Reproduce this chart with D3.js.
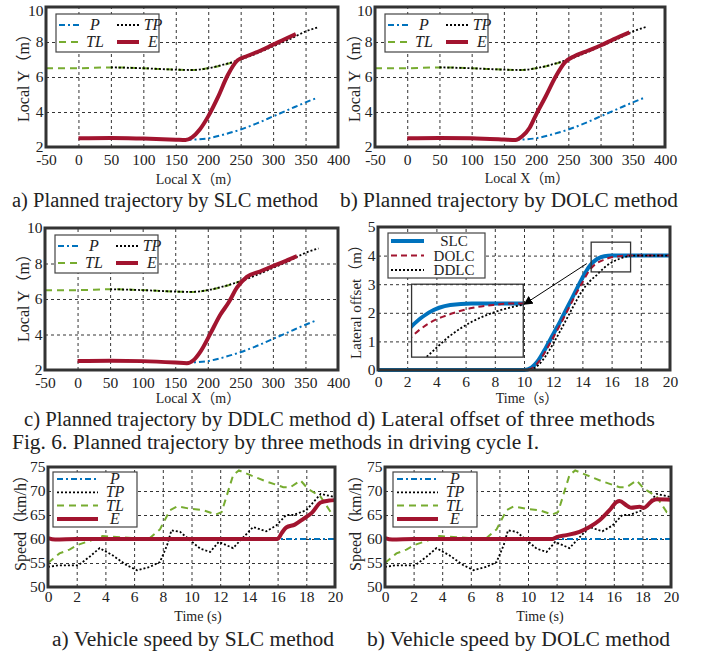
<!DOCTYPE html>
<html>
<head>
<meta charset="utf-8">
<script src="https://cdn.jsdelivr.net/npm/d3@7"></script>
<style>
body { margin: 0; background: #fff; }
text { font-family: "Liberation Serif", "Times New Roman", "Noto Sans CJK SC", serif; fill: #222; }
.grid line { stroke: #000; stroke-width: 0.8; stroke-dasharray: 3,3; }
.grid path, .ticks path { display: none; }
</style>
</head>
<body>
<svg id="fig" width="713" height="652"></svg>
<script>
// ---- trajectory plots (a, b, c) ----
const trajTicksX = [-50, 0, 50, 100, 150, 200, 250, 300, 350, 400];
const trajTicksY = [2, 4, 6, 8, 10];

const tlX = [-50, 0, 50, 100, 150, 175, 200, 225, 250];
const tlY = [6.5, 6.5, 6.55, 6.5, 6.42, 6.4, 6.5, 6.7, 7.0];
const tpX = [50, 100, 150, 175, 200, 225, 250, 275, 300, 325, 350, 370];
const tpY = [6.55, 6.5, 6.42, 6.4, 6.5, 6.72, 7.0, 7.35, 7.75, 8.15, 8.6, 8.85];
const pX = [165, 175, 200, 225, 250, 275, 300, 325, 350, 367];
const pY = [2.4, 2.42, 2.5, 2.72, 3.0, 3.35, 3.75, 4.15, 4.55, 4.8];

const eSlcX = [0, 50, 100, 150, 165, 175, 187, 200, 215, 230, 245, 260, 280, 300, 320, 335];
const eSlcY = [2.5, 2.52, 2.48, 2.42, 2.4, 2.55, 3.0, 3.75, 4.85, 6.1, 6.95, 7.2, 7.5, 7.85, 8.2, 8.45];
const eDolcX = [0, 50, 100, 150, 168, 178, 190, 200, 215, 230, 245, 260, 280, 300, 320, 345];
const eDolcY = [2.5, 2.52, 2.5, 2.43, 2.4, 2.6, 3.1, 3.85, 4.9, 6.0, 6.85, 7.2, 7.5, 7.8, 8.15, 8.55];
const eDdlcX = [0, 50, 100, 150, 168, 178, 189, 204, 219, 232, 245, 260, 280, 300, 320, 337];
const eDdlcY = [2.5, 2.52, 2.5, 2.42, 2.38, 2.55, 3.05, 4.05, 5.1, 5.8, 6.65, 7.25, 7.55, 7.85, 8.15, 8.42];

// ---- lateral offset (d) ----
const latTicksX = [0, 2, 4, 6, 8, 10, 12, 14, 16, 18, 20];
const latTicksY = [0, 1, 2, 3, 4, 5];
const latT = [0, 10, 10.5, 11, 11.5, 12, 12.5, 13, 13.5, 14, 14.5, 15, 15.5, 16, 16.5, 17, 17.5, 20];
const latSLC = [0, 0, 0.08, 0.35, 0.78, 1.25, 1.72, 2.22, 2.72, 3.22, 3.64, 3.88, 3.98, 4.0, 4.0, 4.0, 4.0, 4.0];
const latDOLC = [0, 0, 0.05, 0.28, 0.68, 1.14, 1.6, 2.1, 2.6, 3.06, 3.5, 3.74, 3.86, 3.94, 3.98, 4.0, 4.0, 4.0];
const latDDLC = [0, 0, 0.02, 0.18, 0.5, 0.92, 1.38, 1.86, 2.34, 2.78, 3.1, 3.33, 3.58, 3.76, 3.88, 3.96, 4.0, 4.0];

// ---- vehicle speed (e, f) ----
const spdTicksX = [0, 2, 4, 6, 8, 10, 12, 14, 16, 18, 20];
const spdTicksY = [50, 55, 60, 65, 70, 75];
const spdPT = [0, 20];
const spdPV = [60, 60];
const spdTLT = [0, 0.8, 1.5, 2.1, 2.7, 3.8, 5.9, 7.1, 7.8, 8.5, 9, 9.9, 10.8, 11.7, 12.1, 12.9, 13.3, 14.1, 15.2, 16.4, 16.9, 17.6, 18.1, 19, 19.7, 20];
const spdTLV = [55, 57, 57.8, 58.8, 59.4, 60.6, 60.2, 60.2, 62, 66, 66.8, 66.3, 66, 65.1, 65.6, 73.3, 74.3, 73.3, 72, 70.8, 70.8, 72.2, 70.5, 68.8, 65.6, 65.3];
const spdTPT = [0, 0.7, 1.6, 2.1, 2.9, 3.6, 4.5, 5.5, 6.2, 7.1, 7.8, 8.3, 8.6, 9.2, 10, 10.6, 11.3, 11.9, 12.9, 13.4, 14.3, 15.2, 15.9, 16.6, 17.1, 18, 19, 19.9, 20];
const spdTPV = [54.2, 54.5, 54.5, 54.5, 56.3, 58.1, 56.6, 54.5, 53.5, 54.2, 55.2, 58.7, 61.8, 61.5, 59.5, 58, 57.3, 59.4, 58.1, 59.7, 62.5, 61.6, 62.8, 65, 65, 66, 69.4, 68.8, 68.6];
const spdESlcT = [0, 0.5, 2, 16, 16.3, 16.6, 17.2, 17.8, 18.4, 19, 19.6, 20];
const spdESlcV = [60.2, 59.9, 60, 60, 61.3, 62.4, 63, 64.2, 65.5, 67.6, 68, 68.1];
const spdEDolcT = [0, 0.5, 2, 11.7, 12, 12.7, 13.6, 14.3, 15, 15.7, 16.2, 16.4, 16.9, 17.2, 17.8, 18.1, 18.7, 19, 20];
const spdEDolcV = [60.2, 59.9, 60, 60, 60.4, 60.8, 61.5, 62.5, 63.9, 66, 67.7, 67.9, 67, 66.5, 66.7, 66.5, 68, 68.3, 68.2];

const styles = {
    P:    { stroke: '#0072BD', width: 2, dash: '6,3,2,3' },
    TP:   { stroke: '#000', width: 1.8, dash: '2,2' },
    TL:   { stroke: '#77AC30', width: 2, dash: '7,5' },
    E:    { stroke: '#A2142F', width: 4, dash: null },
    SLC:  { stroke: '#0072BD', width: 4, dash: null },
    DOLC: { stroke: '#A2142F', width: 2, dash: '6,4' },
    DDLC: { stroke: '#000', width: 1.8, dash: '2,2' }
};

const svg = d3.select('#fig');

function makePanel(box, xDom, yDom, xTicks, yTicks, xPad) {
    let w = box.right - box.left, h = box.bottom - box.top;
    let g = svg.append('g').attr('transform', `translate(${box.left},${box.top})`);
    let x = d3.scaleLinear().domain(xDom).range([0, w]);
    let y = d3.scaleLinear().domain(yDom).range([h, 0]);

    g.append('g').attr('class', 'grid').attr('transform', `translate(0,${h})`)
        .call(d3.axisBottom(x).tickValues(xTicks.slice(1, -1)).tickSize(-h).tickFormat(''));
    g.append('g').attr('class', 'grid')
        .call(d3.axisLeft(y).tickValues(yTicks.slice(1, -1)).tickSize(-w).tickFormat(''));

    let ax = g.append('g').attr('class', 'ticks').attr('transform', `translate(0,${h})`)
        .call(d3.axisBottom(x).tickValues(xTicks).tickSize(0).tickPadding(xPad).tickFormat(d => String(d)));
    let ay = g.append('g').attr('class', 'ticks')
        .call(d3.axisLeft(y).tickValues(yTicks).tickSize(0).tickPadding(2.5).tickFormat(d => String(d)));
    [ax, ay].forEach(a => a.attr('font-family', null).attr('font-size', null)
        .selectAll('text').style('font-size', '15.5px').attr('fill', '#222'));

    // the top label sits a little lower when the panel touches the page edge
    if (box.top < 15) {
        ay.selectAll('text').filter(d => d === yDom[1]).attr('dy', '0.55em');
    }

    return { g: g, x: x, y: y, w: w, h: h };
}

function frame(p) {
    p.g.append('rect').attr('width', p.w).attr('height', p.h)
        .attr('fill', 'none').attr('stroke', '#333').attr('stroke-width', 3);
}

function drawLine(p, xs, ys, st, curve, target) {
    (target || p.g).append('path')
        .datum(d3.zip(xs, ys))
        .attr('fill', 'none')
        .attr('stroke', st.stroke)
        .attr('stroke-width', st.width)
        .attr('stroke-dasharray', st.dash)
        .attr('d', d3.line().curve(curve || d3.curveLinear).x(d => p.x(d[0])).y(d => p.y(d[1])));
}

function legendSample(g, x0, x1, y, st) {
    g.append('line').attr('x1', x0).attr('x2', x1).attr('y1', y).attr('y2', y)
        .attr('stroke', st.stroke).attr('stroke-width', st.width).attr('stroke-dasharray', st.dash);
}

function label(x, y, txt, size, opts) {
    opts = opts || {};
    let t = svg.append('text').attr('x', x).attr('y', y).text(txt)
        .style('font-size', size + 'px')
        .attr('text-anchor', opts.anchor || 'middle');
    if (opts.rotate) t.attr('transform', `rotate(-90,${x},${y})`);
    if (opts.italic) t.style('font-style', 'italic');
    if (opts.len) t.attr('textLength', opts.len).attr('lengthAdjust', 'spacingAndGlyphs');
    return t;
}

// ---------- trajectory panels ----------
function trajectoryPanel(box, eX, eY) {
    let p = makePanel(box, [-50, 400], [2, 10], trajTicksX, trajTicksY, 7);
    drawLine(p, tlX, tlY, styles.TL, d3.curveMonotoneX);
    drawLine(p, tpX, tpY, styles.TP, d3.curveMonotoneX);
    drawLine(p, pX, pY, styles.P, d3.curveMonotoneX);
    drawLine(p, eX, eY, styles.E, d3.curveMonotoneX);

    let lg = p.g.append('g').attr('transform', 'translate(10,7)');
    lg.append('rect').attr('width', 103).attr('height', 38)
        .attr('fill', '#fff').attr('stroke', '#444').attr('stroke-width', 1.2);
    let rows = [[['P', styles.P], ['TP', styles.TP]], [['TL', styles.TL], ['E', styles.E]]];
    rows.forEach((row, i) => {
        let yy = 11 + i * 17;
        row.forEach((it, j) => {
            let x0 = 3 + j * 58;
            legendSample(lg, x0, x0 + 22, yy, it[1]);
            lg.append('text').attr('x', x0 + 36).attr('y', yy + 5).text(it[0])
                .attr('text-anchor', 'middle').style('font-size', '16px').style('font-style', 'italic');
        });
    });
    frame(p);
    return p;
}

trajectoryPanel({ left: 46, right: 338, top: 7, bottom: 147 }, eSlcX, eSlcY);
trajectoryPanel({ left: 375, right: 665, top: 7, bottom: 147 }, eDolcX, eDolcY);
trajectoryPanel({ left: 45, right: 338, top: 228, bottom: 370 }, eDdlcX, eDdlcY);

label(198, 184, 'Local X（m）', 14);
label(527, 183, 'Local X（m）', 14);
label(198, 403, 'Local X（m）', 14);
label(29, 74, 'Local Y（m）', 16, { rotate: true });
label(360, 74, 'Local Y（m）', 16, { rotate: true });
label(29, 294, 'Local Y（m）', 16, { rotate: true });

// ---------- lateral offset panel ----------
(function () {
    let p = makePanel({ left: 378, right: 670, top: 227, bottom: 370 }, [0, 20], [0, 5], latTicksX, latTicksY, 6);
    drawLine(p, latT, latSLC, styles.SLC, d3.curveMonotoneX);
    drawLine(p, latT, latDOLC, styles.DOLC, d3.curveMonotoneX);
    drawLine(p, latT, latDDLC, styles.DDLC, d3.curveMonotoneX);

    // zoom window on the main axes
    let zx0 = p.x(14.6), zx1 = p.x(17.3), zy0 = p.y(4.47), zy1 = p.y(3.43);
    p.g.append('rect').attr('x', zx0).attr('y', zy0).attr('width', zx1 - zx0).attr('height', zy1 - zy0)
        .attr('fill', 'none').attr('stroke', '#333').attr('stroke-width', 1.3);

    // inset
    let ix0 = p.x(2.3), ix1 = p.x(9.95), iy0 = p.y(3.0), iy1 = p.y(0.45);
    let inset = {
        g: p.g.append('g'),
        x: d3.scaleLinear().domain([14.6, 17.2]).range([ix0, ix1]),
        y: d3.scaleLinear().domain([3.3, 4.25]).range([iy1, iy0])
    };
    p.g.append('clipPath').attr('id', 'inclip').append('rect')
        .attr('x', ix0).attr('y', iy0).attr('width', ix1 - ix0).attr('height', iy1 - iy0);
    let ig = inset.g.attr('clip-path', 'url(#inclip)');
    drawLine(inset, latT, latSLC, styles.SLC, d3.curveMonotoneX, ig);
    drawLine(inset, latT, latDOLC, styles.DOLC, d3.curveMonotoneX, ig);
    drawLine(inset, latT, latDDLC, styles.DDLC, d3.curveMonotoneX, ig);
    p.g.append('rect').attr('x', ix0).attr('y', iy0).attr('width', ix1 - ix0).attr('height', iy1 - iy0)
        .attr('fill', 'none').attr('stroke', '#333').attr('stroke-width', 1.3);

    // arrow
    p.g.append('defs').append('marker').attr('id', 'arr').attr('viewBox', '0 0 10 10')
        .attr('refX', 9).attr('refY', 5).attr('markerWidth', 9).attr('markerHeight', 9)
        .attr('markerUnits', 'userSpaceOnUse').attr('orient', 'auto')
        .append('path').attr('d', 'M0,0 L10,5 L0,10 z').attr('fill', '#000');
    p.g.append('line').attr('x1', p.x(14.3)).attr('y1', p.y(3.72)).attr('x2', ix1 + 1).attr('y2', p.y(2.3))
        .attr('stroke', '#000').attr('stroke-width', 1).attr('marker-end', 'url(#arr)');

    // legend
    let lg = p.g.append('g').attr('transform', 'translate(10,6)');
    lg.append('rect').attr('width', 97).attr('height', 45)
        .attr('fill', '#fff').attr('stroke', '#444').attr('stroke-width', 1.2);
    [['SLC', styles.SLC], ['DOLC', styles.DOLC], ['DDLC', styles.DDLC]].forEach((it, i) => {
        let yy = 8 + i * 14.5;
        legendSample(lg, 3, 36, yy, it[1]);
        lg.append('text').attr('x', 66).attr('y', yy + 5).text(it[0])
            .attr('text-anchor', 'middle').style('font-size', '15px');
    });
    frame(p);
})();

label(527, 403, 'Time（s）', 14);
label(361, 298, 'Lateral offset（m）', 15, { rotate: true });

// ---------- speed panels ----------
function speedPanel(box, eT, eV, legX) {
    let p = makePanel(box, [0, 20], [50, 75], spdTicksX, spdTicksY, 4);
    drawLine(p, spdTLT, spdTLV, styles.TL);
    drawLine(p, spdTPT, spdTPV, styles.TP);
    drawLine(p, spdPT, spdPV, styles.P);
    drawLine(p, eT, eV, styles.E, d3.curveMonotoneX);

    let lg = p.g.append('g').attr('transform', `translate(${legX},5)`);
    lg.append('rect').attr('width', 84).attr('height', 55)
        .attr('fill', '#fff').attr('stroke', '#444').attr('stroke-width', 1.2);
    [['P', styles.P], ['TP', styles.TP], ['TL', styles.TL], ['E', styles.E]].forEach((it, i) => {
        let yy = 7 + i * 13.3;
        legendSample(lg, 4, 45, yy, it[1]);
        lg.append('text').attr('x', 62).attr('y', yy + 5).text(it[0])
            .attr('text-anchor', 'middle').style('font-size', '16px').style('font-style', 'italic');
    });
    frame(p);
}

speedPanel({ left: 48, right: 335, top: 467, bottom: 587 }, spdESlcT, spdESlcV, 5);
speedPanel({ left: 385, right: 671, top: 467, bottom: 587 }, spdEDolcT, spdEDolcV, 8);

label(198, 621, 'Time (s)', 14);
label(540, 621, 'Time (s)', 14);
label(26, 519, 'Speed（km/h）', 16, { rotate: true });
label(361, 519, 'Speed（km/h）', 16, { rotate: true });

// ---------- captions ----------
label(12, 207, 'a) Planned trajectory by SLC method', 20.5, { anchor: 'start', len: 306 });
label(340, 207, 'b) Planned trajectory by DOLC method', 20.5, { anchor: 'start', len: 338 });
label(24, 426, 'c) Planned trajectory by DDLC method', 20.5, { anchor: 'start', len: 327 });
label(357, 426, 'd) Lateral offset of three methods', 20.5, { anchor: 'start', len: 298 });
label(12, 449, 'Fig. 6. Planned trajectory by three methods in driving cycle I.', 20.5, { anchor: 'start', len: 527 });
label(52, 646, 'a) Vehicle speed by SLC method', 20.5, { anchor: 'start', len: 282 });
label(367, 646, 'b) Vehicle speed by DOLC method', 20.5, { anchor: 'start', len: 303 });
</script>
</body>
</html>
